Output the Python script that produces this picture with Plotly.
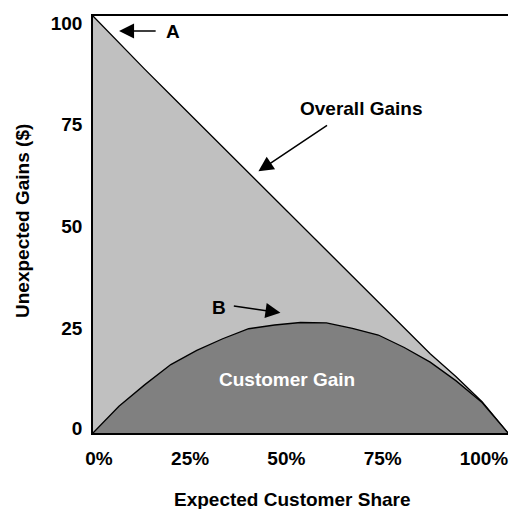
import plotly.graph_objects as go

# ---- data ----
share = [0, 6.25, 12.5, 18.75, 25, 31.25, 37.5, 43.75, 50, 56.25, 62.5, 68.75, 75, 81.25, 87.5, 93.75, 100]
overall_gains = [100, 93.5, 87.2, 81, 74.8, 68.6, 62.4, 56.2, 50, 43.8, 37.6, 31.5, 25.3, 19, 13.5, 7.5, 0]
customer_gain = [0, 6.4, 11.6, 16.4, 19.8, 22.6, 25, 25.9, 26.5, 26.4, 25.1, 23.5, 20.5, 17, 12.5, 7.3, 0]

x_tick_labels = ["0%", "25%", "50%", "75%", "100%"]
x_tick_pos = [1.45, 23.4, 46.6, 69.8, 94.2]
y_tick_labels = ["0", "25", "50", "75", "100"]
y_tick_pos = [1.2, 25.2, 49.5, 74.0, 98.3]

FONT = "Liberation Sans, Arial, sans-serif"
FS = 19

fig = go.Figure()
fig.add_trace(go.Scatter(
    x=share, y=overall_gains, mode="lines", fill="tozeroy",
    fillcolor="#C0C0C0", line=dict(color="black", width=1.3),
    showlegend=False, hoverinfo="skip"))
fig.add_trace(go.Scatter(
    x=share, y=customer_gain, mode="lines", fill="tozeroy",
    fillcolor="#808080", line=dict(color="black", width=1.3),
    showlegend=False, hoverinfo="skip"))

bold = dict(family=FONT, size=FS, color="black", weight="bold")
arrow = dict(text="", showarrow=True, arrowhead=2, arrowsize=2.0, arrowwidth=1.5,
             arrowcolor="black", xref="x", yref="y", axref="x", ayref="y")

annotations = [
    # A
    dict(x=6.28, y=96.4, ax=15.46, ay=96.4, **arrow),
    dict(x=19.3, y=96.2, xref="x", yref="y", text="<b>A</b>", showarrow=False, font=bold),
    # Overall Gains
    dict(x=39.86, y=62.74, ax=56.76, ay=74.04, **arrow),
    dict(x=64.7, y=77.9, xref="x", yref="y", text="<b>Overall Gains</b>", showarrow=False, font=bold),
    # B
    dict(x=45.17, y=28.85, ax=33.57, ay=30.53, **arrow),
    dict(x=30.43, y=30.05, xref="x", yref="y", text="<b>B</b>", showarrow=False, font=bold),
    # Customer Gain
    dict(x=46.86, y=12.74, xref="x", yref="y", text="<b>Customer Gain</b>", showarrow=False,
         font=dict(family=FONT, size=FS, color="white", weight="bold")),
    # axis titles
    dict(x=(292 - 93) / 415, y=(433 - 500) / 417, xref="paper", yref="paper",
         text="<b>Expected Customer Share</b>", showarrow=False, font=bold,
         xanchor="center", yanchor="middle"),
    dict(x=(22 - 93) / 415, y=(433 - 221) / 417, xref="paper", yref="paper",
         text="<b>Unexpected Gains ($)</b>", showarrow=False, font=bold, textangle=-90,
         xanchor="center", yanchor="middle"),
]

fig.update_layout(
    width=509, height=509,
    margin=dict(l=93, r=1, t=16, b=76),
    paper_bgcolor="white", plot_bgcolor="white",
    annotations=annotations,
    xaxis=dict(range=[0, 100], tickvals=x_tick_pos, ticktext=x_tick_labels,
               showgrid=False, zeroline=False, showline=True, linecolor="black", linewidth=1.5,
               mirror=True, ticks="outside", ticklen=7, tickcolor="rgba(0,0,0,0)",
               tickfont=dict(family=FONT, size=FS, color="black", weight="bold")),
    yaxis=dict(range=[0, 100], tickvals=y_tick_pos, ticktext=y_tick_labels,
               showgrid=False, zeroline=False, showline=True, linecolor="black", linewidth=1.5,
               ticks="outside", ticklen=5, tickcolor="rgba(0,0,0,0)",
               tickfont=dict(family=FONT, size=FS, color="black", weight="bold")),
)

fig.write_html("out.html", config={"displayModeBar": False},
               post_script="document.body.style.margin='0';document.body.style.overflow='hidden';")
